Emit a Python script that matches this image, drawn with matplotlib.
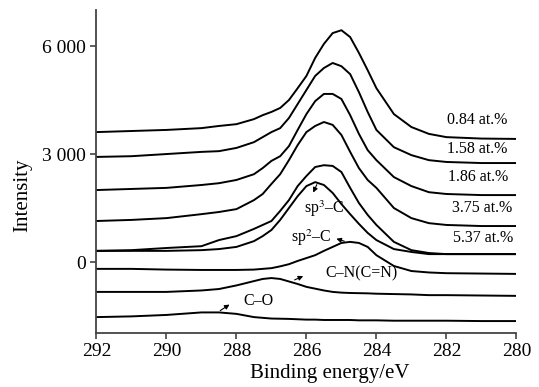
import matplotlib.pyplot as plt

plt.rcParams["font.family"] = ["Liberation Serif", "DejaVu Serif"]
plt.rcParams["mathtext.fontset"] = "stix"

# binding energy grid (eV) the curves were read at
energy = [292, 291, 290, 289, 288.5, 288, 287.5, 287.25, 287, 286.75, 286.5, 286.25,
          286, 285.75, 285.5, 285.25, 285, 284.75, 284.5, 284.25, 284, 283.5, 283,
          282.5, 282, 281, 280]

# measured C1s spectra, offset upwards
s084 = [3610, 3640, 3670, 3720, 3780, 3830, 3970, 4080, 4170, 4280, 4500, 4830,
        5170, 5670, 6060, 6360, 6440, 6250, 5810, 5330, 4830, 4110, 3750,
        3560, 3470, 3430, 3420]
s158 = [2920, 2940, 3000, 3060, 3080, 3170, 3330, 3470, 3610, 3720, 4000, 4390,
        4780, 5170, 5390, 5530, 5440, 5220, 4720, 4170, 3670, 3190, 2970,
        2830, 2780, 2750, 2750]
s186 = [2000, 2030, 2060, 2140, 2190, 2280, 2440, 2610, 2810, 2940, 3220, 3670,
        4110, 4470, 4670, 4670, 4530, 4080, 3560, 3110, 2830, 2360, 2110,
        1940, 1890, 1860, 1860]
s375 = [1140, 1170, 1220, 1330, 1390, 1470, 1720, 1890, 2170, 2440, 2830, 3250,
        3610, 3780, 3890, 3810, 3530, 3060, 2610, 2280, 2060, 1500, 1220,
        1080, 1030, 1000, 1000]
s537 = [310, 330, 390, 440, 610, 720, 920, 1030, 1140, 1420, 1720, 2110,
        2390, 2640, 2690, 2670, 2500, 2060, 1640, 1310, 1030, 560, 330,
        250, 220, 220, 220]

# fitted components of the 5.37 at.% spectrum
fit_sp3 = [310, 310, 310, 330, 360, 420, 580, 720, 890, 1170, 1500, 1830,
           2110, 2220, 2140, 1920, 1610, 1330, 1060, 810, 610, 360, 280,
           220, 220, 220, 220]
fit_sp2 = [-190, -190, -210, -220, -220, -220, -210, -190, -170, -120, -60, 30,
           110, 190, 310, 420, 530, 560, 530, 420, 190, -110, -250,
           -290, -310, -320, -330]
fit_cn = [-830, -830, -830, -790, -750, -650, -530, -470, -445, -470, -540, -610,
          -690, -740, -790, -830, -850, -860, -865, -870, -880, -890, -900,
          -920, -920, -930, -940]
fit_co = [-1530, -1510, -1470, -1400, -1400, -1440, -1530, -1550, -1570, -1575, -1580, -1590,
          -1600, -1600, -1610, -1610, -1610, -1610, -1620, -1620, -1620, -1630, -1630,
          -1630, -1630, -1640, -1640]

spectra = [s084, s158, s186, s375, s537]
spectrum_labels = ["0.84 at.%", "1.58 at.%", "1.86 at.%", "3.75 at.%", "5.37 at.%"]
label_pos = [(281.13, 3940), (281.13, 3140), (281.1, 2360), (280.99, 1500), (280.96, 670)]

fig = plt.figure(figsize=(5.39, 3.87), dpi=100)
ax = fig.add_axes([0.179, 0.1395, 0.779, 0.8345])

for s in spectra:
    ax.plot(energy, s, color="black", lw=1.4)
for f in [fit_sp3, fit_sp2, fit_cn, fit_co]:
    ax.plot(energy, f, color="black", lw=1.4)

for lab, (x, y) in zip(spectrum_labels, label_pos):
    ax.text(x, y, lab, fontsize=11.5, ha="center", va="center")

# component labels, arrows run from the curve towards the text
arrow = dict(arrowstyle="-|>", color="black", lw=0.8, mutation_scale=7)
ax.annotate("", xy=(285.84, 1860), xytext=(285.67, 2220), arrowprops=arrow)
ax.text(285.5, 1470, "sp$^3$–C", fontsize=11.5, ha="center", va="center")
ax.annotate("", xy=(285.22, 670), xytext=(284.84, 556), arrowprops=arrow)
ax.text(285.87, 670, "sp$^2$–C", fontsize=11.5, ha="center", va="center")
ax.annotate("", xy=(286.02, -360), xytext=(286.41, -528), arrowprops=arrow)
ax.text(284.44, -306, "C–N(C=N)", fontsize=11.5, ha="center", va="center")
ax.annotate("", xy=(288.13, -1140), xytext=(288.53, -1390), arrowprops=arrow)
ax.text(287.36, -1083, "C–O", fontsize=11.5, ha="center", va="center")

ax.set_xlim(292, 280)
ax.set_ylim(-1972, 7000)
ax.set_xticks([292, 290, 288, 286, 284, 282, 280])
ax.set_yticks([0, 3000, 6000])
ax.set_yticklabels(["0", "3 000", "6 000"])
ax.tick_params(labelsize=14, length=4, width=1.2, color="#444444")
ax.spines["top"].set_visible(False)
ax.spines["right"].set_visible(False)
for sp in ["left", "bottom"]:
    ax.spines[sp].set_linewidth(1.3)
    ax.spines[sp].set_color("#444444")

ax.set_xlabel("Binding energy/eV", fontsize=15)
ax.set_ylabel("Intensity", fontsize=15)
ax.xaxis.set_label_coords(0.556, -0.097)
ax.yaxis.set_label_coords(-0.154, 0.427)

plt.savefig("out.png", dpi=100)
